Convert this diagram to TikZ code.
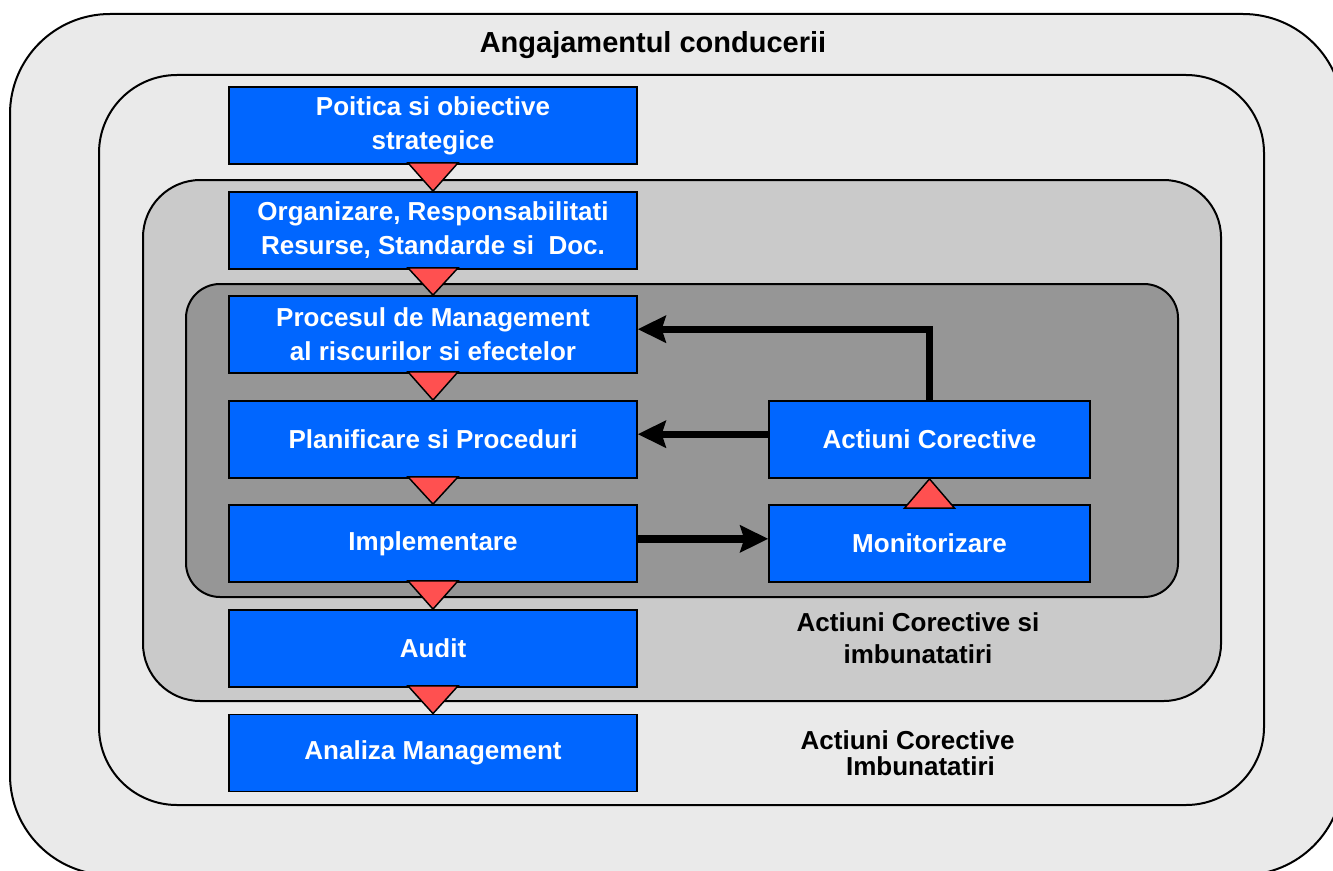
\documentclass[tikz,border=0pt]{standalone}
\usepackage[RGB]{xcolor}
\usepackage{fontspec}
\setmainfont{Liberation Sans}
\usetikzlibrary{arrows.meta}
\definecolor{boxblue}{RGB}{0,102,255}
\definecolor{trired}{RGB}{255,80,80}
\definecolor{ringlight}{RGB}{234,234,234}
\definecolor{ringmid}{RGB}{202,202,202}
\definecolor{ringdark}{RGB}{150,150,150}
\newcommand{\drawring}[4]{\draw[ring,fill=#1,rounded corners=#2] #3 rectangle #4;}
\newcommand{\downtri}[2]{
  \draw[tri] ([xshift=-18.75pt,yshift=1.5pt]#1.south) -- ([xshift=18.75pt,yshift=1.5pt]#1.south) -- (#2.north) -- cycle;
}
\tikzset{
  ring/.style={draw=black,line width=1.5pt},
  bluebox/.style={draw=black,line width=1.1pt,fill=boxblue,text=white,
    font=\bfseries\fontsize{19.5}{25.5}\selectfont,align=center,
    minimum width=306pt,minimum height=58pt,inner sep=0pt},
  tri/.style={draw=black,line width=1.1pt,fill=trired,line join=miter},
  flow/.style={line width=5.5pt,line join=miter,
    -{Stealth[length=21pt,width=20pt,inset=3pt]}},
  caption/.style={font=\bfseries\fontsize{19.5}{24}\selectfont}
}
\begin{document}
\begin{tikzpicture}[x=0.75pt,y=-0.75pt]
\useasboundingbox (0,0) rectangle (1333,870);
\clip (0,0) rectangle (1333,870);
% nested frames
\drawring{ringlight}{75pt}{(10,14)}{(1343,875)}
\drawring{ringlight}{58.5pt}{(99,75)}{(1264,805)}
\drawring{ringmid}{43pt}{(143,180)}{(1221,701)}
\drawring{ringdark}{25.5pt}{(186,284)}{(1178,597)}
\node[font=\bfseries\fontsize{21.75}{26}\selectfont] (title) at (653,45) {Angajamentul conducerii};
% left column
\node[bluebox] (pol) at (433,125.5) {Poitica si obiective\\strategice};
\node[bluebox] (org) at (433,230.5) {Organizare, Responsabilitati\\Resurse, Standarde si\ \ Doc.};
\node[bluebox] (proc) at (433,334.5) {Procesul de Management\\al riscurilor si efectelor};
\node[bluebox] (plan) at (433,439.5) {Planificare si Proceduri};
\node[bluebox] (impl) at (433,543.5) {Implementare};
\node[bluebox] (aud) at (433,648.5) {Audit};
\node[bluebox] (anl) at (433,753) {Analiza Management};
% right column
\node[bluebox,minimum width=240.75pt] (act) at (929.5,439.5) {Actiuni Corective};
\node[bluebox,minimum width=240.75pt] (mon) at (929.5,543.5) {Monitorizare};
\foreach \a/\b in {pol/org,org/proc,proc/plan,plan/impl,impl/aud,aud/anl}{
  \downtri{\a}{\b}
}
\draw[tri] ([xshift=-18.75pt,yshift=-3pt]mon.north) -- ([xshift=18.75pt,yshift=-3pt]mon.north) -- (act.south) -- cycle;
% feedback arrows
\draw[flow] (act.north) |- ([yshift=4pt]proc.east);
\draw[flow] ([yshift=4pt]act.west) -- ([yshift=4pt]plan.east);
\draw[flow] ([yshift=3.5pt]impl.east) -- ([yshift=3.5pt]mon.west);
% captions
\node[caption,align=center] (capmid) at (918,638) {Actiuni Corective si\\imbunatatiri};
\node[caption,align=left,anchor=north west,font=\bfseries\fontsize{19.5}{19.5}\selectfont] (capout) at (796,726) {Actiuni Corective\\\hspace*{34pt}Imbunatatiri};
\end{tikzpicture}
\end{document}
